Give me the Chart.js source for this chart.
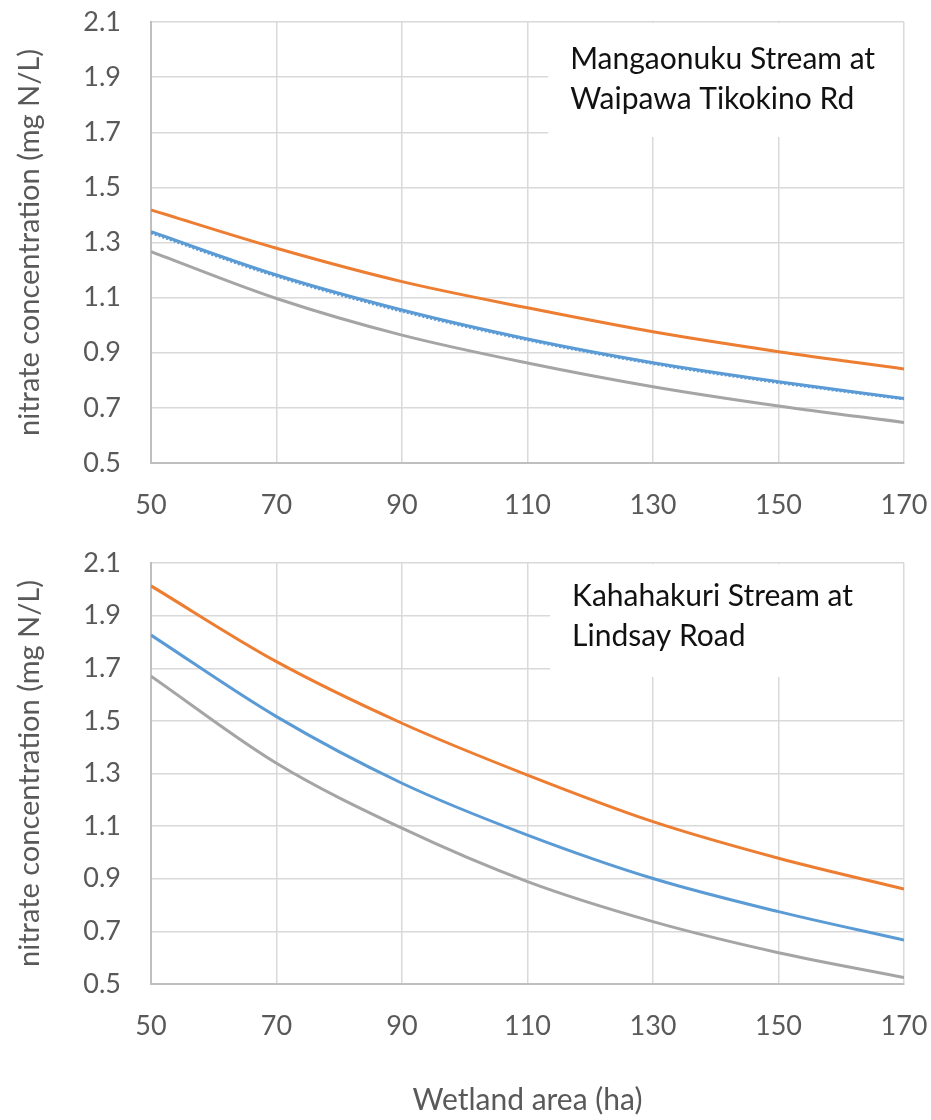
<!DOCTYPE html>
<html>
<head>
<meta charset="utf-8">
<script src="https://cdn.jsdelivr.net/npm/chart.js@4.4.1/dist/chart.umd.min.js"></script>
<style>
  body { margin: 0; background: #fff; width: 931px; height: 1120px; position: relative; overflow: hidden; }
  canvas { position: absolute; left: 0; }
  #topChart { top: 0; }
  #bottomChart { top: 541px; }
</style>
</head>
<body>
<canvas id="topChart" width="931" height="535"></canvas>
<canvas id="bottomChart" width="931" height="579"></canvas>
<script>
// wetland area (ha)
let area = [50, 70, 90, 110, 130, 150, 170];

// Mangaonuku Stream at Waipawa Tikokino Rd
let mangaHigh = [1.418, 1.279, 1.158, 1.063, 0.976, 0.904, 0.841];
let mangaMid = [1.339, 1.182, 1.055, 0.950, 0.864, 0.795, 0.734];
let mangaMidDot = [1.333, 1.176, 1.049, 0.945, 0.859, 0.790, 0.731];
let mangaLow = [1.267, 1.097, 0.964, 0.863, 0.777, 0.707, 0.647];

// Kahahakuri Stream at Lindsay Road
let kahaHigh = [2.013, 1.725, 1.491, 1.294, 1.117, 0.978, 0.861];
let kahaMid = [1.826, 1.516, 1.263, 1.066, 0.901, 0.775, 0.667];
let kahaLow = [1.670, 1.339, 1.092, 0.889, 0.737, 0.619, 0.525];

let mangaLabel = ['Mangaonuku Stream at', 'Waipawa Tikokino Rd'];
let kahaLabel = ['Kahahakuri Stream at', 'Lindsay Road'];

let orange = '#ED7D31';
let blue = '#5B9BD5';
let grey = '#A5A5A5';
let font = 'Lato';

function pts(vals) {
    return vals.map((v, i) => ({x: area[i], y: v}));
}

function line(vals, color, dash) {
    return {
        data: pts(vals),
        borderColor: color,
        borderWidth: dash ? 2 : 3,
        borderDash: dash || [],
        pointRadius: 0,
        fill: false,
        cubicInterpolationMode: 'monotone'
    };
}

// white note box with the site name, covers the grid in the top right corner
let noteBox = {
    id: 'noteBox',
    beforeDatasetsDraw(chart, args, opts) {
        let ctx = chart.ctx;
        let x = chart.scales.x, y = chart.scales.y;
        let left = x.getPixelForValue(opts.x0);
        let right = x.getPixelForValue(170) - 1;
        let top = y.getPixelForValue(2.1) + 1;
        let bottom = y.getPixelForValue(opts.y0);
        ctx.save();
        ctx.fillStyle = '#fff';
        ctx.fillRect(left, top, right - left, bottom - top);
        ctx.fillStyle = '#111';
        ctx.font = '30px ' + font;
        ctx.textBaseline = 'alphabetic';
        opts.lines.forEach((t, i) => {
            ctx.fillText(t, left + 22, top + opts.base + i * 40);
        });
        ctx.restore();
    }
};

function makeChart(id, sets, note, xHeight, xTitle) {
    return new Chart(document.getElementById(id).getContext('2d'), {
        type: 'line',
        data: {datasets: sets},
        plugins: [noteBox],
        options: {
            responsive: false,
            animation: false,
            layout: {padding: {top: 22, right: 27, left: 0, bottom: 0}},
            plugins: {
                legend: {display: false},
                tooltip: {enabled: false},
                noteBox: note
            },
            scales: {
                x: {
                    type: 'linear',
                    min: 50,
                    max: 170,
                    // fixed height, and no extra room for the tick label padding
                    afterFit: (s) => { s.height = xHeight; s.paddingLeft = 0; s.paddingRight = 0; },
                    ticks: {
                        stepSize: 20,
                        color: '#595959',
                        padding: 26,
                        font: {family: font, size: 27}
                    },
                    grid: {color: '#d9d9d9', lineWidth: 1.5, drawTicks: false},
                    border: {color: '#bfbfbf', width: 2},
                    title: {
                        display: !!xTitle,
                        text: xTitle || '',
                        color: '#595959',
                        padding: {top: 0, bottom: 2},
                        font: {family: font, size: 30}
                    }
                },
                y: {
                    min: 0.5,
                    max: 2.1,
                    afterFit: (s) => { s.width = 151; s.paddingTop = 0; s.paddingBottom = 0; },
                    ticks: {
                        stepSize: 0.2,
                        color: '#595959',
                        padding: 30,
                        font: {family: font, size: 27},
                        callback: (v) => v.toFixed(1)
                    },
                    grid: {color: '#d9d9d9', lineWidth: 1.5, drawTicks: false},
                    border: {color: '#bfbfbf', width: 2},
                    title: {
                        display: true,
                        text: 'nitrate concentration (mg N/L)',
                        color: '#595959',
                        padding: {top: 12, bottom: 0},
                        font: {family: font, size: 29}
                    }
                }
            }
        }
    });
}

makeChart('topChart', [
    line(mangaMidDot, blue, [2, 2]),
    line(mangaMid, blue),
    line(mangaHigh, orange),
    line(mangaLow, grey)
], {x0: 113.3, y0: 1.683, base: 46, lines: mangaLabel}, 72);

makeChart('bottomChart', [
    line(kahaMid, blue),
    line(kahaHigh, orange),
    line(kahaLow, grey)
], {x0: 113.6, y0: 1.667, base: 42, lines: kahaLabel}, 136, 'Wetland area (ha)');
</script>
</body>
</html>
